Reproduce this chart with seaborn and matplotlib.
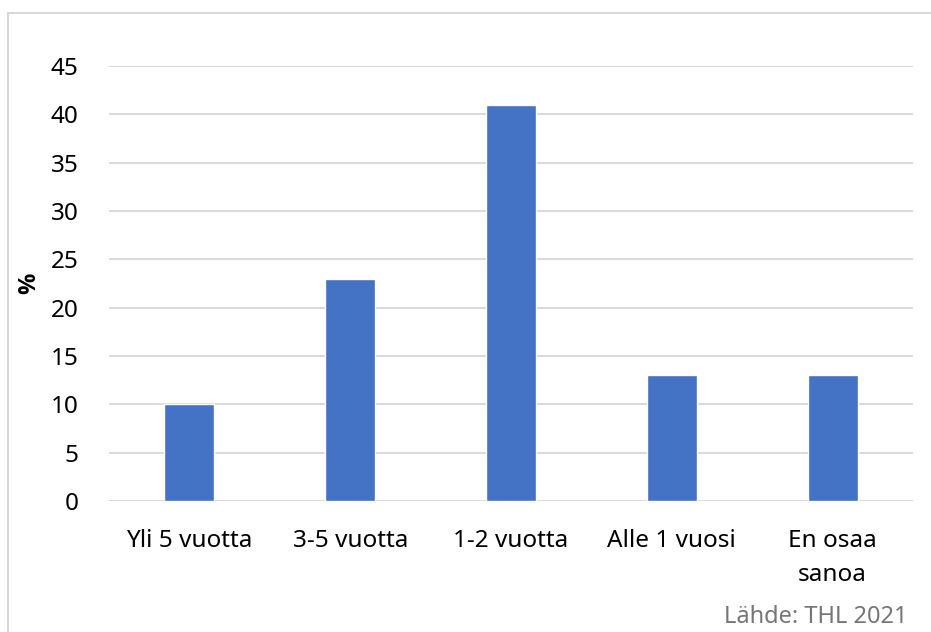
import matplotlib
matplotlib.use("Agg")
import matplotlib.pyplot as plt
import seaborn as sns
import pandas as pd
from matplotlib.lines import Line2D

categories = ["Yli 5 vuotta", "3-5 vuotta", "1-2 vuotta", "Alle 1 vuosi", "En osaa\nsanoa"]
values = [10, 23, 41, 13, 13]
yticks = [0, 5, 10, 15, 20, 25, 30, 35, 40, 45]

sns.set_theme(style="white")
plt.rcParams['font.family'] = ['Noto Sans', 'DejaVu Sans']

df = pd.DataFrame({"cat": categories, "val": values})

fig = plt.figure(figsize=(9.31, 6.32), dpi=100)
ax = fig.add_axes([109/931, 1-501/632, 804/931, (501-66)/632])

sns.barplot(data=df, x="cat", y="val", color="#4472C4", width=0.31, saturation=1, ax=ax, zorder=3)

ax.set_ylim(0, 45)
ax.set_yticks(yticks)
ax.set_yticklabels([str(t) for t in yticks], fontsize=17.5, color="#000000")
for lbl in ax.get_xticklabels():
    lbl.set_linespacing(1.55)
ax.tick_params(axis="x", labelsize=17.5, colors="#000000", length=0, pad=20)
ax.tick_params(axis="y", length=0, pad=22)
ax.set_xlim(-0.5, 4.5)
ax.yaxis.grid(True, color="#d9d9d9", linewidth=1.4, zorder=0)
ax.set_axisbelow(True)
for s in ax.spines.values():
    s.set_visible(False)
ax.set_xlabel("")
ax.set_ylabel("%", fontsize=17, fontweight="bold", color="#000000",
              fontfamily=["Open Sans", "DejaVu Sans"])
ax.yaxis.set_label_coords(-68/804, 0.5)

# outer border (top and left visible)
fig.add_artist(Line2D([8/931, 8/931], [0, 1-13/632], transform=fig.transFigure, color="#d9d9d9", linewidth=1.5))
fig.add_artist(Line2D([8/931, 1], [1-13/632, 1-13/632], transform=fig.transFigure, color="#d9d9d9", linewidth=1.5))

fig.text(907/931, 1-617/632, "Lähde: THL 2021", ha="right", va="center", fontsize=17, color="#767676")

fig.savefig("out.png", dpi=100)
